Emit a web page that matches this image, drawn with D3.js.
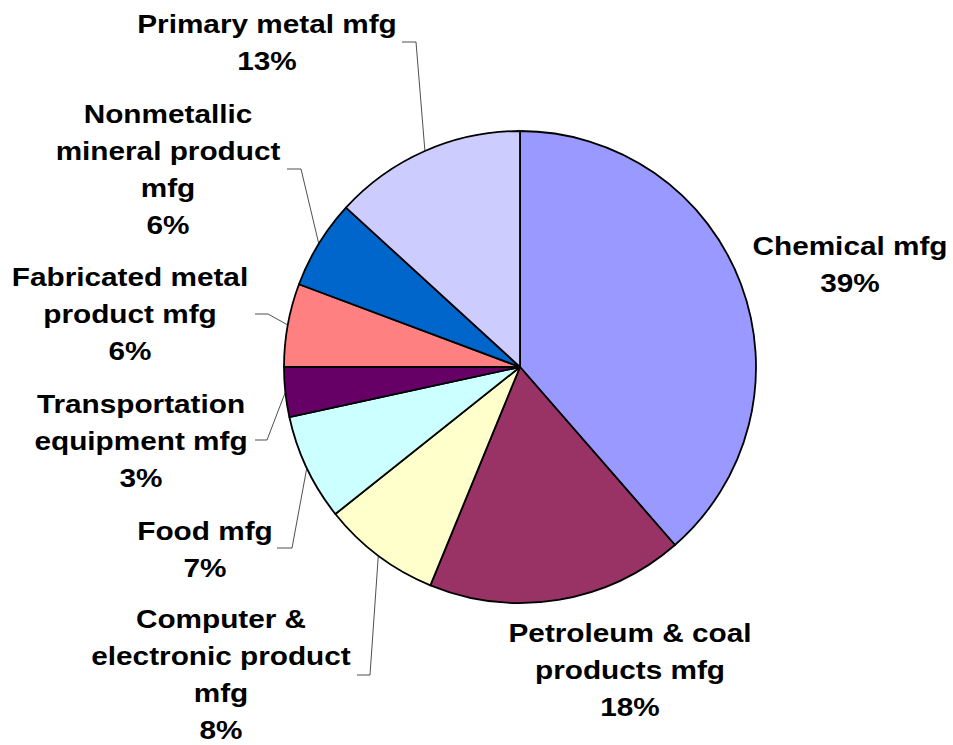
<!DOCTYPE html>
<html><head><meta charset="utf-8">
<script src="https://cdn.jsdelivr.net/npm/d3@7/dist/d3.min.js"></script>
<style>body{margin:0;background:#fff}svg{display:block}</style>
</head><body>
<svg id="c" width="953" height="745"></svg>
<script>
const categories = ["Chemical mfg","Petroleum & coal products mfg","Computer & electronic product mfg","Food mfg","Transportation equipment mfg","Fabricated metal product mfg","Nonmetallic mineral product mfg","Primary metal mfg"];
const values = [38.6, 17.6, 8.1, 7.3, 3.4, 5.7, 6.1, 13.2];
const colors = ["#9999FF","#993366","#FFFFCC","#CCFFFF","#660066","#FF8080","#0066CC","#CCCCFF"];
const labelLines = [
  ["Chemical mfg"],
  ["Petroleum & coal","products mfg"],
  ["Computer &","electronic product","mfg"],
  ["Food mfg"],
  ["Transportation","equipment mfg"],
  ["Fabricated metal","product mfg"],
  ["Nonmetallic","mineral product","mfg"],
  ["Primary metal mfg"]
];
// label layout: center x, first baseline y, leader start [x,y] & elbow x (null = no leader)
const layout = [
  {x:850, y:255, lead:null},
  {x:630, y:642, lead:null},
  {x:221, y:628, lead:[357,675,370]},
  {x:205, y:540, lead:[277,548,292]},
  {x:141, y:413, lead:[255,440,267]},
  {x:130, y:286, lead:[255,314,268]},
  {x:168, y:123, lead:[287,169,301]},
  {x:267, y:33,  lead:[402,42,416]}
];
const cx = 520, cy = 367, R = 236, LH = 37;
const svg = d3.select("#c");
const g = svg.append("g").attr("transform",`translate(${cx},${cy})`);
const pie = d3.pie().sort(null).value(d=>d)(values);
const arc = d3.arc().innerRadius(0).outerRadius(R);
g.selectAll("path.s").data(pie).join("path")
  .attr("d",arc).attr("fill",(d,i)=>colors[i])
  .attr("stroke","#000").attr("stroke-width",1.8).attr("stroke-linejoin","round");

const total = d3.sum(values);
// leaders
pie.forEach((d,i)=>{
  const L = layout[i];
  if(!L.lead) return;
  const a = (d.startAngle+d.endAngle)/2;
  const ex = R*Math.sin(a), ey = -R*Math.cos(a);
  g.append("polyline")
    .attr("points",[[L.lead[0]-cx,L.lead[1]-cy],[L.lead[2]-cx,L.lead[1]-cy],[ex,ey]].map(p=>p.join(",")).join(" "))
    .attr("fill","none").attr("stroke","#222").attr("stroke-width",0.8);
});
// labels
pie.forEach((d,i)=>{
  const L = layout[i];
  const lines = labelLines[i].concat([Math.round(values[i]/total*100)+"%"]);
  const t = svg.append("text")
    .attr("transform",`translate(${L.x},0) scale(1.19,1)`)
    .attr("font-family","'Liberation Sans', Arial, sans-serif")
    .attr("font-weight","bold").attr("font-size",25)
    .attr("text-anchor","middle").attr("fill","#000");
  lines.forEach((s,k)=>t.append("tspan").attr("x",0).attr("y",L.y+k*LH).text(s));
});
</script>
</body></html>
